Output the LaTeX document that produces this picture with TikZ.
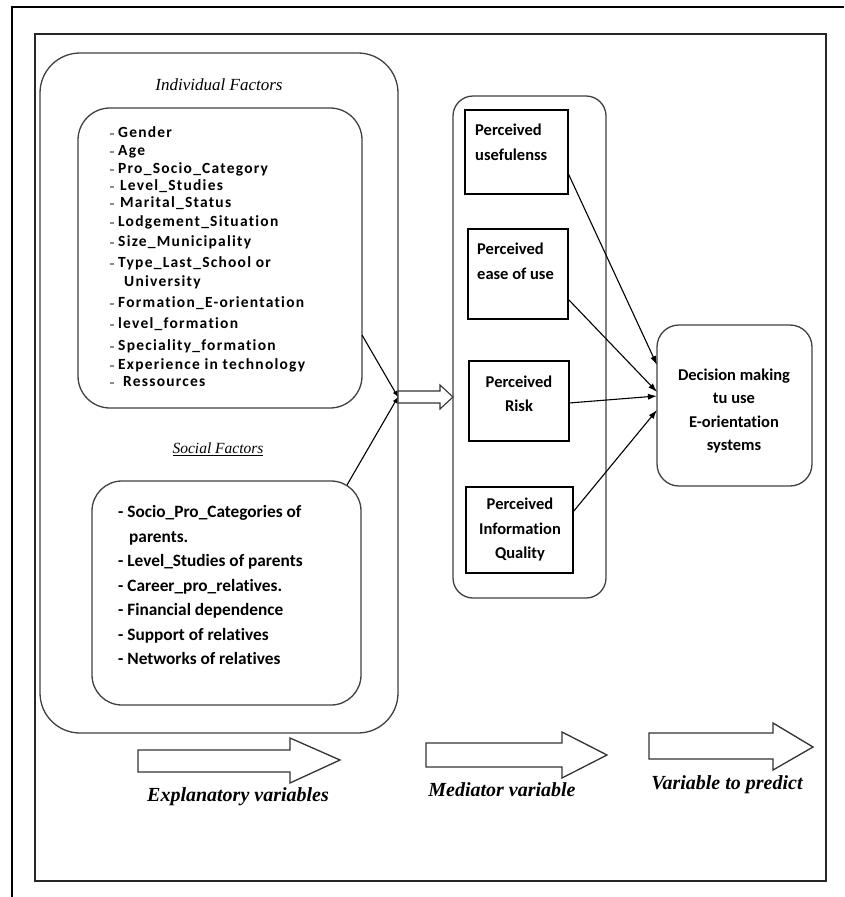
\documentclass[tikz,border=0pt]{standalone}
\usepackage{fontspec}
\setmainfont{Liberation Serif}
\newfontfamily\calfont{Carlito}[Ligatures=NoCommon]
\newfontfamily\calspfont{Carlito}[LetterSpace=8,Ligatures=NoCommon]
\usetikzlibrary{arrows.meta,calc}
\tikzset{
  rbox/.style={draw=black!75, line width=1.3pt, rounded corners=#1, inner sep=0pt, outer sep=0pt},
  sbox/.style={draw=black, line width=1.2pt, inner sep=0pt, outer sep=0pt},
  indtxt/.style={anchor=west, inner sep=0pt, text height=0.7em, text depth=0.2em,
     font=\calspfont\bfseries\fontsize{15.5}{17}\selectfont},
  soctxt/.style={anchor=west, inner sep=0pt, text height=0.7em, text depth=0.2em,
     font=\calfont\bfseries\fontsize{17.3}{20}\selectfont},
  boxtxt/.style={inner sep=0pt, font=\calfont\bfseries\fontsize{16.5}{24.5}\selectfont},
  conn/.style={line width=1.1pt, -{Latex[length=9pt,width=6pt]}},
  jconn/.style={line width=1.1pt, -{Latex[length=6pt,width=5pt]}},
  blockarrow/.style={draw=black!80, line width=1.3pt, fill=white, line join=miter},
  varlabel/.style={inner sep=0pt, font=\bfseries\itshape\fontsize{20}{24}\selectfont}
}
\begin{document}
\begin{tikzpicture}[x=1pt,y=-1pt]
\useasboundingbox (0,0) rectangle (844,897);
% frames
\draw[line width=2pt] (12,897) -- (12,7) -- (844,7);
\draw[draw=black!85, line width=1.5pt] (35,34) rectangle (826,881);

% left container
\node[rbox=40pt, minimum width=358pt, minimum height=680pt] (expl) at (219,393) {};
\node[inner sep=0pt, font=\itshape\fontsize{17}{20}\selectfont] (indT) at (219,85) {Individual Factors};
\node[rbox=32pt, minimum width=284pt, minimum height=300pt] (ind) at (220,258) {};
\foreach \t/\y/\x [count=\i] in {
  Gender/134/118, Age/152/118, Pro\_Socio\_Category/170/118, Level\_Studies/187/120,
  Marital\_Status/204/120, Lodgement\_Situation/223/118, Size\_Municipality/243/118,
  Type\_Last\_School or/264/118, University/283/124, Formation\_E-orientation/304/118,
  level\_formation/325/118, Speciality\_formation/347/118, Experience in technology/366/118,
  Ressources/383/123}
  \node[indtxt] (ind\i) at (\x,\y+1) {\t};
\foreach \y in {134,152,170,187,204,223,243,264,304,325,347,366,383}
  \draw[black!45, line width=1.4pt] (110,\y) -- (114,\y);

\node[inner sep=0pt, font=\itshape\fontsize{15.5}{18}\selectfont] (socT) at (218,449) {\underline{Social Factors}};
\node[rbox=30pt, minimum width=269pt, minimum height=224pt] (soc) at (226.5,593) {};
\foreach \t/\y/\x [count=\i] in {
  - Socio\_Pro\_Categories of/515/118, parents./540/129, - Level\_Studies of parents/564/118,
  - Career\_pro\_relatives./589/118, - Financial dependence/613/118,
  - Support of relatives/638/118, - Networks of relatives/662/118}
  \node[soctxt] (soc\i) at (\x,\y) {\t};

% junction
\coordinate (J) at (398,397);
\draw[jconn] ([yshift=-77pt]ind.east) -- (J);
\draw[jconn] ([xshift=-14pt,yshift=-4pt]soc.north east) -- (J);
\draw[blockarrow, line width=1.1pt] (J) ++(0,-6) -- ++(42,0) -- ++(0,-6) -- ++(13,12) -- ++(-13,12) -- ++(0,-6) -- ++(-42,0) -- cycle;

% middle container
\node[rbox=20pt, minimum width=153pt, minimum height=502pt] (med) at (529.5,347) {};
\node[sbox, minimum width=103pt, minimum height=84pt] (pu) at (516.5,152) {};
\node[sbox, minimum width=100pt, minimum height=90pt] (pe) at (518,274) {};
\node[sbox, minimum width=100pt, minimum height=80pt] (pr) at (519,401) {};
\node[sbox, minimum width=107pt, minimum height=86pt] (pq) at (519.5,530) {};
\node[boxtxt, align=left, anchor=north west] (puT) at (475,124) {Perceived\\usefulenss};
\node[boxtxt, align=left, anchor=north west] (peT) at (477,243) {Perceived\\ease of use};
\node[boxtxt, align=center] (prT) at (519,394) {Perceived\\Risk};
\node[boxtxt, align=center] (pqT) at (520,530) {Perceived\\Information\\Quality};

% decision
\node[rbox=22pt, minimum width=155pt, minimum height=161pt] (dec) at (734.5,405.5) {};
\node[boxtxt, align=center, font=\calfont\bfseries\fontsize{16.5}{23.3}\selectfont] (decT) at (734,411) {Decision making\\tu use\\E-orientation\\systems};

\draw[conn] ([yshift=-21pt]pu.east) -- ([yshift=40.5pt]dec.west);
\draw[conn] ([yshift=-25pt]pe.east) -- ([yshift=13.5pt]dec.west);
\draw[conn] ([yshift=-2pt]pr.east) -- ([yshift=9.5pt]dec.west);
\draw[conn] ([yshift=18pt]pq.east) -- ([yshift=-4.5pt]dec.west);

% bottom block arrows
\draw[blockarrow] (138,750) -- (290,750) -- (290,738) -- (340,760) -- (290,783) -- (290,772) -- (138,772) -- cycle;
\draw[blockarrow] (426,743) -- (562,743) -- (562,732) -- (607,755) -- (562,778) -- (562,767) -- (426,767) -- cycle;
\draw[blockarrow] (649,733) -- (773,733) -- (773,723) -- (813,747) -- (773,770) -- (773,759) -- (649,759) -- cycle;
\node[varlabel] (l1) at (238,797) {Explanatory variables};
\node[varlabel] (l2) at (502,790) {Mediator variable};
\node[varlabel] (l3) at (727,785) {Variable to predict};
\end{tikzpicture}
\end{document}
